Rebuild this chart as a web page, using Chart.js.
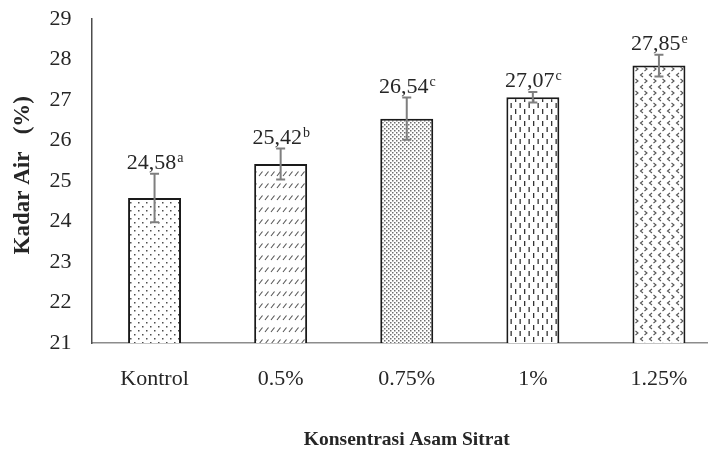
<!DOCTYPE html>
<html>
<head>
<meta charset="utf-8">
<script src="https://cdn.jsdelivr.net/npm/chart.js@4/dist/chart.umd.min.js"></script>
<style>
  html, body { margin: 0; padding: 0; background: #fff; overflow: hidden; }
  #wrap { position: relative; width: 722px; height: 453px; }
</style>
</head>
<body>
<div id="wrap"><canvas id="chart"></canvas></div>
<script>
// Water content (%) by citric acid concentration
const categories = ['Kontrol', '0.5%', '0.75%', '1%', '1.25%'];
const kadarAir = [24.58, 25.42, 26.54, 27.07, 27.85];
const stdDev = [0.60, 0.38, 0.52, 0.13, 0.27];
const notasi = ['a', 'b', 'c', 'c', 'e'];
const yTicks = [21, 22, 23, 24, 25, 26, 27, 28, 29];

const SERIF = '"Liberation Serif", "Times New Roman", serif';
const TEXT = '#262626';

// Hatch fills for each bar
function makeTile(w, h, draw) {
  const c = document.createElement('canvas');
  c.width = w; c.height = h;
  const g = c.getContext('2d');
  g.fillStyle = '#ffffff';
  g.fillRect(0, 0, w, h);
  draw(g);
  return document.getElementById('chart').getContext('2d').createPattern(c, 'repeat');
}
const patterns = [
  // sparse staggered dots
  makeTile(8, 8, g => {
    g.fillStyle = '#4d4d4d';
    g.fillRect(2, 2, 1.5, 1.5);
    g.fillRect(6, 6, 1.5, 1.5);
  }),
  // short diagonal strokes in rows
  makeTile(6, 12, g => {
    g.strokeStyle = '#555555';
    g.lineWidth = 1.1;
    g.beginPath();
    g.moveTo(1, 8);
    g.lineTo(4.5, 3.5);
    g.stroke();
  }),
  // dense dot screen
  makeTile(4, 4, g => {
    g.fillStyle = '#6e6e6e';
    g.fillRect(0, 0, 1.5, 1.5);
    g.fillRect(2, 2, 1.5, 1.5);
  }),
  // staggered vertical dashes
  makeTile(9, 12, g => {
    g.fillStyle = '#333333';
    g.fillRect(2, 1, 1.3, 5);
    g.fillRect(6.5, 7, 1.3, 5);
  }),
  // alternating chevrons
  makeTile(9, 12, g => {
    g.strokeStyle = '#555555';
    g.lineWidth = 1.1;
    g.beginPath();
    g.moveTo(4, 1); g.lineTo(1.5, 3); g.lineTo(4, 5);
    g.moveTo(5.5, 7); g.lineTo(8, 9); g.lineTo(5.5, 11);
    g.stroke();
  })
];

// Error bars drawn from stdDev through the y scale
const errorBarPlugin = {
  id: 'errorBars',
  afterDatasetsDraw(chart) {
    const meta = chart.getDatasetMeta(0);
    const y = chart.scales.y;
    const ctx = chart.ctx;
    ctx.save();
    ctx.strokeStyle = '#7f7f7f';
    ctx.lineWidth = 2;
    meta.data.forEach((bar, i) => {
      const v = kadarAir[i], e = stdDev[i];
      const yt = y.getPixelForValue(v + e);
      const yb = y.getPixelForValue(v - e);
      ctx.beginPath();
      ctx.moveTo(bar.x, yt); ctx.lineTo(bar.x, yb);
      ctx.moveTo(bar.x - 4.5, yt); ctx.lineTo(bar.x + 4.5, yt);
      ctx.moveTo(bar.x - 4.5, yb); ctx.lineTo(bar.x + 4.5, yb);
      ctx.stroke();
    });
    ctx.restore();
  }
};

// Value labels with significance letters as superscripts
const valueLabelPlugin = {
  id: 'valueLabels',
  afterDraw(chart) {
    const meta = chart.getDatasetMeta(0);
    const y = chart.scales.y;
    const ctx = chart.ctx;
    ctx.save();
    ctx.fillStyle = TEXT;
    ctx.textBaseline = 'alphabetic';
    ctx.textAlign = 'left';
    meta.data.forEach((bar, i) => {
      const main = kadarAir[i].toFixed(2).replace('.', ',');
      const sup = notasi[i];
      ctx.font = '22px ' + SERIF;
      const w1 = ctx.measureText(main).width;
      ctx.font = '14px ' + SERIF;
      const w2 = ctx.measureText(sup).width;
      const x0 = bar.x - (w1 + w2) / 2;
      const base = y.getPixelForValue(kadarAir[i] + stdDev[i]) - 5;
      ctx.font = '22px ' + SERIF;
      ctx.fillText(main, x0, base);
      ctx.font = '14px ' + SERIF;
      ctx.fillText(sup, x0 + w1 + 1, base - 7);
    });
    ctx.restore();
  }
};

new Chart(document.getElementById('chart'), {
  type: 'bar',
  data: {
    labels: categories,
    datasets: [{
      data: kadarAir,
      backgroundColor: patterns,
      borderColor: '#1a1a1a',
      borderWidth: 2,
      borderSkipped: 'bottom',
      barPercentage: 0.42,
      categoryPercentage: 1.0
    }]
  },
  options: {
    responsive: true,
    maintainAspectRatio: false,
    devicePixelRatio: 1,
    animation: false,
    layout: { padding: { left: 0, right: 0, top: 19, bottom: 0 } },
    plugins: {
      legend: { display: false },
      tooltip: { enabled: false }
    },
    scales: {
      x: {
        afterFit(scale) {
          scale.height = 110;
          scale.paddingLeft = 0;
          scale.paddingRight = 0;
        },
        grid: { display: false, drawTicks: false },
        border: { display: true, color: '#8c8c8c', width: 1.5 },
        ticks: {
          color: TEXT,
          padding: 23,
          font: { family: SERIF, size: 22 }
        },
        title: {
          display: true,
          text: 'Konsentrasi Asam Sitrat',
          color: TEXT,
          font: { family: SERIF, size: 19.5, weight: 'bold' },
          padding: { top: 0, bottom: 1 }
        }
      },
      y: {
        min: 21,
        max: 29,
        afterFit(scale) {
          scale.width = 91.5;
          scale.paddingTop = 0;
          scale.paddingBottom = 0;
        },
        afterBuildTicks(scale) { scale.ticks = yTicks.map(v => ({ value: v })); },
        grid: { display: false, drawTicks: false },
        border: { display: true, color: '#4d4d4d', width: 1.5 },
        ticks: {
          color: TEXT,
          padding: 20,
          font: { family: SERIF, size: 22 }
        },
        title: {
          display: true,
          text: '  Kadar Air   (%)',
          color: TEXT,
          font: { family: SERIF, size: 23, weight: 'bold' },
          padding: { top: 9, bottom: 0 }
        }
      }
    }
  },
  plugins: [errorBarPlugin, valueLabelPlugin]
});
</script>
</body>
</html>
